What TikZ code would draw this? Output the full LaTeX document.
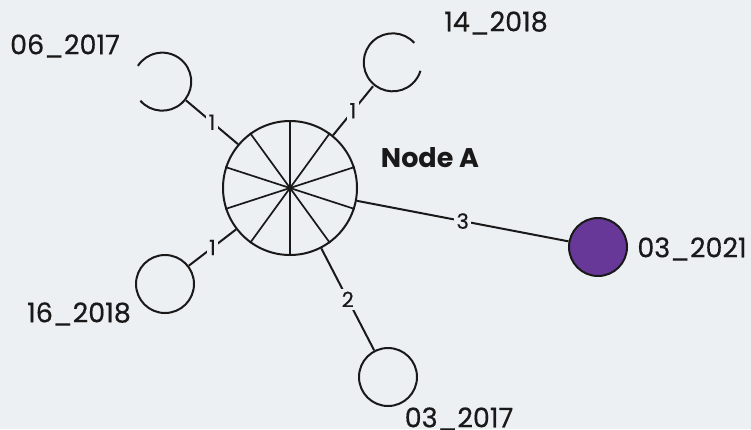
\documentclass[tikz,border=0pt]{standalone}
\usepackage{fontspec}
\setmainfont{Poppins}
\newfontfamily\pfont{Poppins}[FakeBold=0.5]
\definecolor{bg}{RGB}{237,240,243}
\definecolor{purp}{RGB}{104,56,152}
\definecolor{ink}{RGB}{25,25,25}
\begin{document}
\begin{tikzpicture}[x=1pt,y=-1pt,line width=2pt,draw=ink,
  hub/.style={circle,draw,minimum size=134pt,inner sep=0pt},
  sat/.style={circle,minimum size=58pt,inner sep=0pt},
  lbl/.style={fill=bg,inner sep=2.5pt,font=\pfont\fontsize{21}{21}\selectfont,text=ink},
  tname/.style={font=\pfont\fontsize{27}{27}\selectfont,text=ink,inner sep=0pt}]
\fill[bg] (0,0) rectangle (751,429);
\useasboundingbox (0,0) rectangle (751,429);
\node[hub] (main) at (290,188) {};
\foreach \a in {90,126,...,414} \draw[line width=1.7pt] (main.center) -- (main.\a);
\fill[ink] (main.center) circle (2.2pt);
\node[sat] (n06) at (163,81) {};
\node[sat] (n14) at (392,63) {};
\node[sat,draw] (n16) at (165,284) {};
\node[sat,draw] (n0317) at (388,377) {};
\node[sat,draw,fill=purp] (n0321) at (598,247) {};
\draw (n06.221) arc[start angle=221,end angle=507,radius=29pt];
\draw (n14.42) arc[start angle=42,end angle=343,radius=29pt];
\draw (n06) -- node[lbl]{1} (main);
\draw (n14) -- node[lbl]{1} (main);
\draw (n16) -- node[lbl]{1} (main);
\draw (n0317) -- node[lbl]{2} (main);
\draw (n0321) -- node[lbl]{3} (main);
\node[tname] (t06) at (65,46) {06\_2017};
\node[tname] (t14) at (496,23) {14\_2018};
\node[tname,font=\fontsize{27}{27}\selectfont\bfseries] (tA) at (430,158) {Node A};
\node[tname] (t16) at (79,314) {16\_2018};
\node[tname] (t0317) at (459,419) {03\_2017};
\node[tname] (t0321) at (692,249) {03\_2021};
\end{tikzpicture}
\end{document}
